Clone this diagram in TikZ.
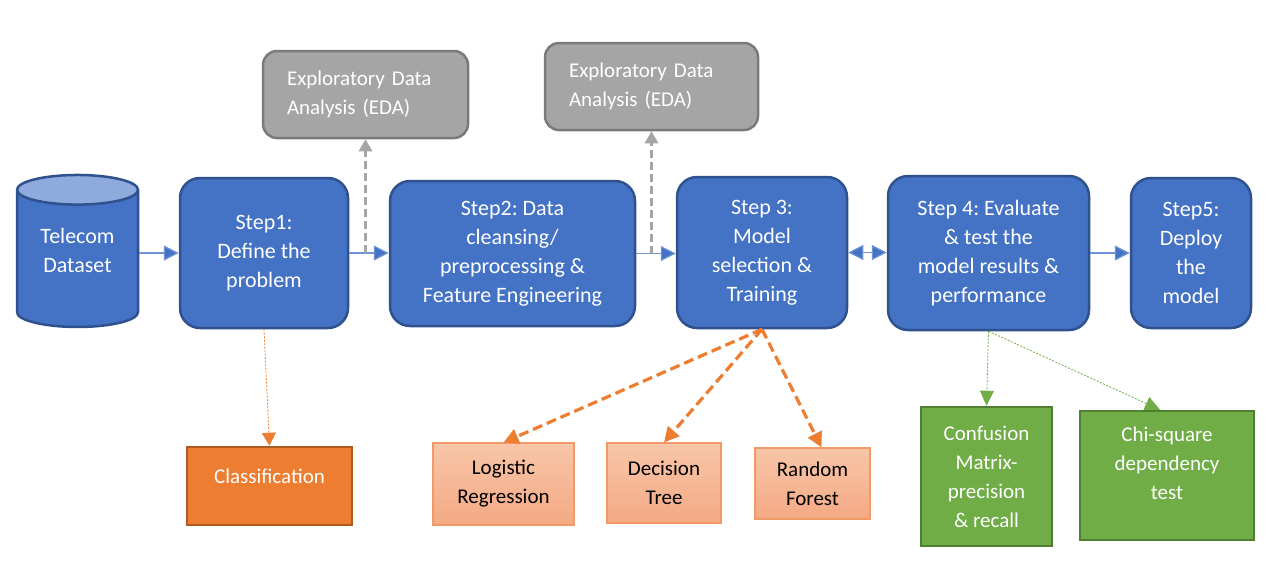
\documentclass[tikz,border=0pt]{standalone}
\usepackage{fontspec}
\setmainfont{Carlito}
\usetikzlibrary{arrows.meta,shapes.geometric}
\frenchspacing

\definecolor{stepblue}{HTML}{4472C4}
\definecolor{stepline}{HTML}{2F528F}
\definecolor{endblue}{HTML}{8FAADC}
\definecolor{flowblue}{HTML}{6F93D6}
\definecolor{edagrey}{HTML}{A5A5A5}
\definecolor{edaline}{HTML}{7A7A7A}
\definecolor{clsorange}{HTML}{ED7D31}
\definecolor{clsline}{HTML}{AE5A21}
\definecolor{algtop}{HTML}{F8C6A8}
\definecolor{algbot}{HTML}{F4A984}
\definecolor{algline}{HTML}{F29A66}
\definecolor{evalgreen}{HTML}{70AD47}
\definecolor{evalline}{HTML}{507E32}

\begin{document}
\begin{tikzpicture}[x=1pt,y=-1pt,
    bigtext/.style={font=\fontsize{22}{29}\selectfont},
    smalltext/.style={font=\fontsize{21}{29}\selectfont},
    stepbox/.style={rectangle,rounded corners=20pt,draw=stepline,fill=stepblue,line width=2.5pt,
        text=white,align=center,bigtext,inner sep=0pt},
    edabox/.style={rectangle,rounded corners=14pt,draw=edaline,fill=edagrey,line width=2.5pt,
        text=white,align=left,smalltext,inner xsep=24pt,inner ysep=0pt},
    clsbox/.style={rectangle,draw=clsline,fill=clsorange,line width=2.5pt,text=white,
        smalltext,inner sep=0pt},
    algbox/.style={rectangle,draw=algline,top color=algtop,bottom color=algbot,line width=1.2pt,
        text=black,align=center,smalltext,inner sep=0pt},
    evalbox/.style={rectangle,draw=evalline,fill=evalgreen,line width=2.5pt,text=white,
        align=center,smalltext,inner sep=0pt},
    flow/.style={-{Triangle[length=15pt,width=15pt,fill=stepblue]},draw=flowblue,line width=1.2pt},
    twoway/.style={{Triangle[length=15pt,width=15pt,fill=stepblue]}-{Triangle[length=15pt,width=15pt,fill=stepblue]},
        draw=flowblue,line width=1.2pt},
    edaarrow/.style={-{Triangle[length=12pt,width=13pt]},draw=edagrey,line width=3.5pt,dash pattern=on 8pt off 4pt},
    clsarrow/.style={-{Triangle[length=13pt,width=14pt]},draw=clsorange,line width=0.8pt,dash pattern=on 2pt off 1.5pt},
    algarrow/.style={-{Triangle[length=15pt,width=15pt]},draw=clsorange,line width=3.2pt,dash pattern=on 10pt off 5pt},
    evalarrow/.style={-{Triangle[length=15pt,width=14pt]},draw=evalgreen,line width=0.8pt,dash pattern=on 2pt off 1.5pt},
  ]
  \fill[white] (0,0) rectangle (1279,563);
  \useasboundingbox (0,0) rectangle (1279,563);

  % main line
  \node[cylinder,shape border rotate=90,aspect=0.4,minimum width=121pt,minimum height=152pt,
    draw=stepline,line width=2.5pt,cylinder uses custom fill,cylinder body fill=stepblue,
    cylinder end fill=endblue,text=white,align=center,bigtext,inner sep=0pt,text depth=17pt] (data) at (77.5,259) {Telecom\\Dataset};
  \node[stepbox,minimum width=168pt,minimum height=150pt] (step1) at (264,253) {Step1:\\Define the\\problem};
  \node[stepbox,minimum width=245pt,minimum height=145pt] (step2) at (512.5,253.5) {Step2: Data\\cleansing/\\preprocessing \&\\Feature Engineering};
  \node[stepbox,minimum width=170pt,minimum height=151pt] (step3) at (762,252.5) {Step 3:\\Model\\selection \&\\Training};
  \node[stepbox,minimum width=201pt,minimum height=154pt] (step4) at (988.5,253) {Step 4: Evaluate\\\& test the\\model results \&\\performance};
  \node[stepbox,minimum width=120pt,minimum height=150pt] (step5) at (1191,253) {Step5:\\Deploy\\the\\model};

  % EDA
  \node[edabox,text width=157pt,minimum height=87pt] (edaA) at (365.5,94.5) {Exploratory Data\\Analysis (EDA)};
  \node[edabox,text width=165pt,minimum height=87pt] (edaB) at (651.5,86.5) {Exploratory Data\\Analysis (EDA)};

  % lower boxes
  \node[clsbox,minimum width=165pt,minimum height=78pt,text depth=20pt] (cls) at (269.5,486) {Classification};
  \node[algbox,minimum width=141pt,minimum height=82pt] (logreg) at (503.5,484) {Logistic\\Regression};
  \node[algbox,minimum width=114pt,minimum height=80pt] (dtree) at (664,483) {Decision\\Tree};
  \node[algbox,minimum width=115pt,minimum height=71pt] (rforest) at (812.5,483.5) {Random\\Forest};
  \node[evalbox,minimum width=131pt,minimum height=139pt] (confmat) at (986.5,476.5) {Confusion\\Matrix-\\precision\\\& recall};
  \node[evalbox,minimum width=174pt,minimum height=129pt,text depth=24pt] (chisq) at (1167,475.5) {Chi-square\\dependency\\test};

  \path
  (data.east |- step1.east) edge[flow] (step1.west)
  (step1.east) edge[flow] (step1.east -| step2.west)
  (step2.east) edge[flow] (step2.east -| step3.west)
  (step3.east) edge[twoway] (step3.east -| step4.west)
  (step4.east) edge[flow] (step4.east -| step5.west)
  (edaA.south |- step1.east) edge[edaarrow] (edaA.south)
  (edaB.south |- step2.east) edge[edaarrow] (edaB.south)
  (step1.south) edge[clsarrow] (cls.north)
  (step3.south) edge[algarrow] (logreg.north)
  (step3.south) edge[algarrow] (dtree.north)
  (step3.south) edge[algarrow] ([xshift=9pt]rforest.north)
  (step4.south) edge[evalarrow] (confmat.north)
  (step4.south) edge[evalarrow] ([xshift=-7pt]chisq.north)
;
\end{tikzpicture}
\end{document}
